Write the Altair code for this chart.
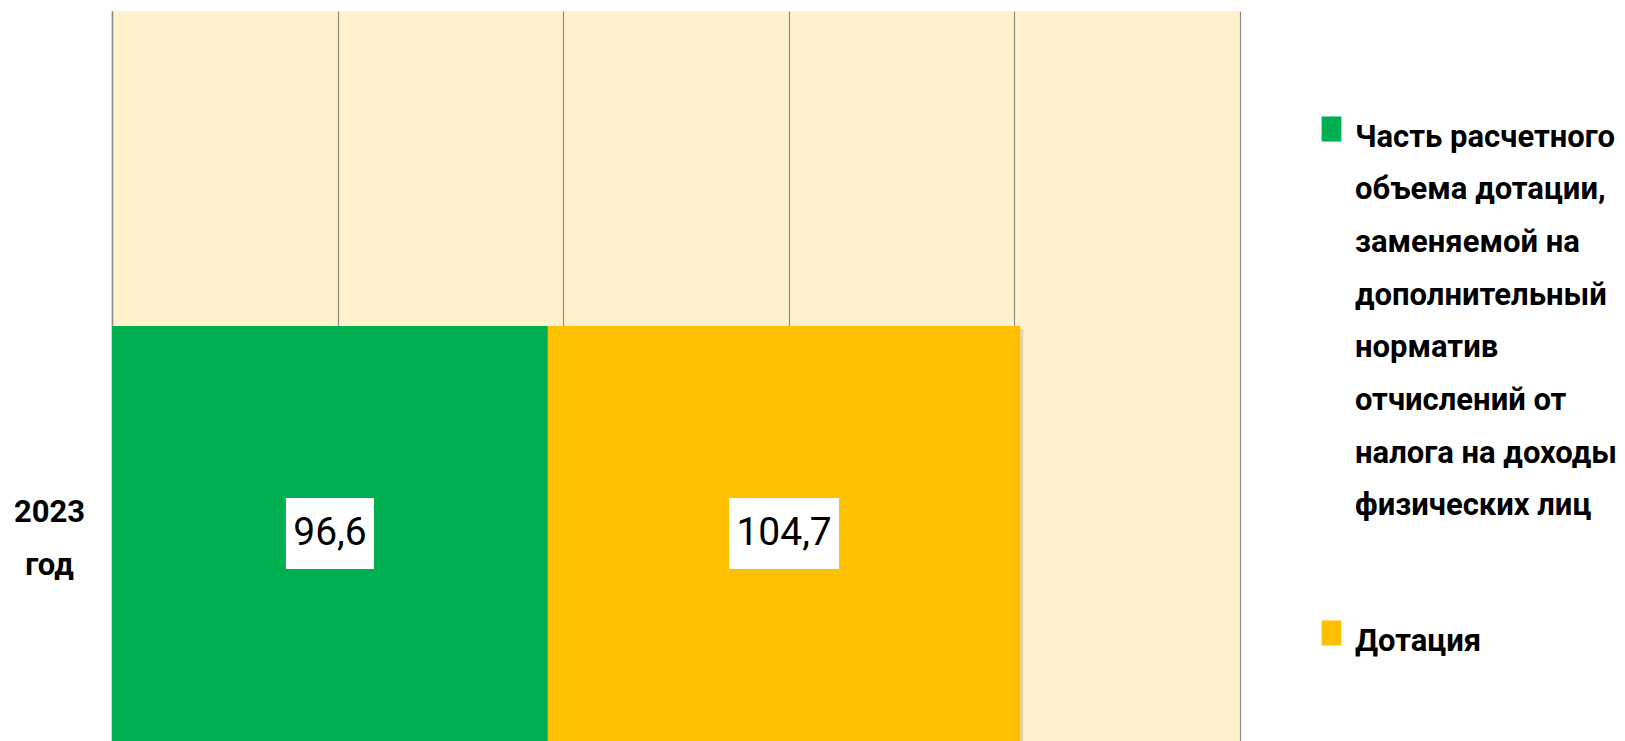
import json
import altair as alt
import pandas as pd

# ---- data ----
categories = ["2023 год"]
series = [
    "Часть расчетного объема дотации, заменяемой на дополнительный норматив отчислений от налога на доходы физических лиц",
    "Дотация",
]
values = [96.6, 104.7]
series_order = [0, 1]
colors = ["#00B050", "#FFC000"]
x_ticks = [0, 50, 100, 150, 200, 250]
legend_lines = [
    ["Часть расчетного", "объема дотации,", "заменяемой на", "дополнительный",
     "норматив", "отчислений от", "налога на доходы", "физических лиц"],
    ["Дотация"],
]

FONT = "Roboto"
GRID = "#8C8C8C"

df = pd.DataFrame({
    "year": categories * len(series),
    "series": series,
    "value": values,
    "order": series_order,
})

x_scale = alt.Scale(domain=[0, 250], nice=False, zero=True)
y_scale = alt.Scale(paddingInner=0, paddingOuter=0.3795, align=1)

legend_expr = " : ".join(
    f"datum.label == {json.dumps(s, ensure_ascii=False)} ? {json.dumps(l, ensure_ascii=False)}"
    for s, l in zip(series, legend_lines)
) + " : datum.label"

y_axis = alt.Axis(
    title=None, labelExpr="split(datum.label, ' ')", labelFont=FONT,
    labelFontSize=31, labelFontWeight="bold", labelColor="black",
    labelAlign="center", labelBaseline="middle", labelPadding=63,
    labelOffset=-20, labelLineHeight=53, labelLimit=300, ticks=False,
    tickSize=0, domainColor=GRID, domainWidth=1.5,
)
x_axis = alt.Axis(
    title=None, values=x_ticks, grid=True, labels=False, ticks=False,
    domain=False, gridColor=GRID, gridWidth=1.2,
)

base = alt.Chart(df)

shadow = base.mark_bar(color="#7f7f7f", opacity=0.25, xOffset=3, x2Offset=3, yOffset=3).encode(
    x=alt.X("value:Q", stack="zero", scale=x_scale, axis=x_axis),
    y=alt.Y("year:N", scale=y_scale, axis=y_axis),
    order=alt.Order("order:Q"),
    detail="series:N",
)

bars = base.mark_bar().encode(
    x=alt.X("value:Q", stack="zero", scale=x_scale, axis=x_axis),
    y=alt.Y("year:N", scale=y_scale, axis=y_axis),
    color=alt.Color(
        "series:N", sort=series,
        scale=alt.Scale(domain=series, range=colors),
        legend=alt.Legend(
            title=None, orient="none", legendX=1204, legendY=120,
            labelFont=FONT, labelFontSize=31, labelFontWeight="bold",
            labelColor="black", labelLimit=400, labelBaseline="alphabetic",
            labelOffset=8, labelExpr=legend_expr,
            symbolType="M-0.9,-2.73H0.9V-0.45H-0.9Z", symbolSize=484,
            symbolStrokeWidth=0, symbolOpacity=1, rowPadding=98, padding=0,
        ),
    ),
    order=alt.Order("order:Q"),
)

labeled = base.transform_stack(
    stack="value", as_=["x0", "x1"], groupby=["year"],
    sort=[alt.SortField("order")],
).transform_calculate(
    mid="(datum.x0 + datum.x1) / 2",
    label="replace(format(datum.value, '.1f'), '.', ',')",
).transform_calculate(
    hw="length(datum.label) * 11 / 35.5",
).transform_calculate(
    box="'M-' + datum.hw + ',-1H' + datum.hw + 'V1H-' + datum.hw + 'Z'",
)

boxes = labeled.mark_point(filled=True, color="white", opacity=1, size=5041, strokeWidth=0).encode(
    x=alt.X("mid:Q", scale=x_scale),
    y=alt.Y("year:N", scale=y_scale),
    shape=alt.Shape("box:N", scale=None),
)

texts = labeled.mark_text(font=FONT, fontSize=39, color="black", baseline="middle").encode(
    x=alt.X("mid:Q", scale=x_scale),
    y=alt.Y("year:N", scale=y_scale),
    text="label:N",
)

chart = alt.layer(shadow, bars, boxes, texts).properties(
    width=1128, height=730,
    autosize=alt.AutoSizeParams(type="none"),
    padding={"left": 112, "top": 11, "right": 385, "bottom": 0},
    background="white",
).configure(
    style={"guide-label": {"lineHeight": 52.7}},
).configure_view(
    fill="#FFF2CC", stroke=None,
)

chart.save("out.html", embed_options={"renderer": "svg", "actions": False})
